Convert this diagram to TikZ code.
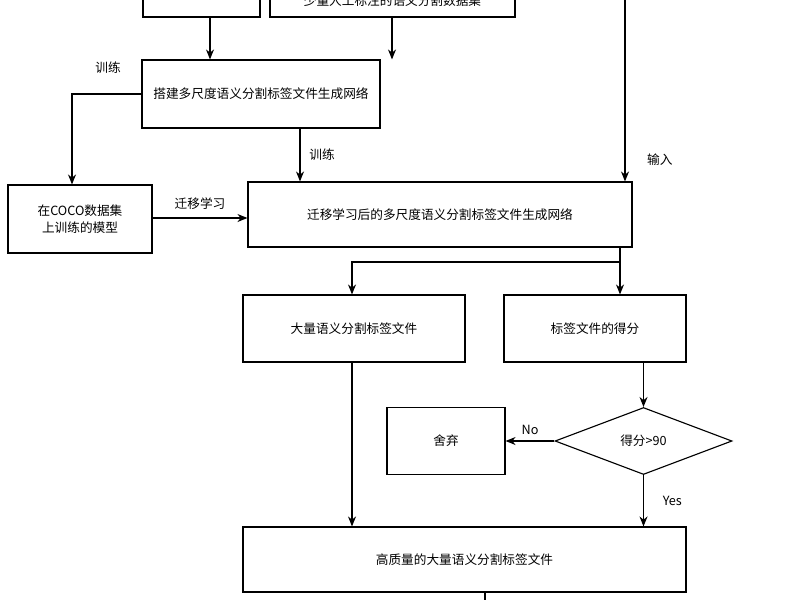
\documentclass[tikz,border=0pt]{standalone}
\usepackage{fontspec}
\setmainfont{Liberation Serif}
\newfontfamily\cjk{Noto Sans CJK SC}
\usetikzlibrary{calc,positioning,shapes.geometric,arrows.meta}
\begin{document}
\begin{tikzpicture}[x=0.025cm,y=-0.025cm,>={Stealth[length=2.5mm,width=2mm]},font=\cjk\fontsize{9}{12}\selectfont]

\tikzset{box/.style={draw,thick,rectangle,inner sep=0pt,align=center},
lbl/.style={font=\cjk\fontsize{9}{11}\selectfont},
flow/.style={thick,->}}

\useasboundingbox (0,0) rectangle (800,600);
\begin{scope}
\clip (0,0) rectangle (800,600);

% boxes
\node[box,minimum width=117*0.025cm,minimum height=60*0.025cm] (a) at (201.5,-13) {};
\node[box,minimum width=245*0.025cm,minimum height=60*0.025cm] (b) at (392.5,-13) {};
\node (btext) at (392.5,1) {少量人工标注的语义分割数据集};
\node[box,minimum width=238*0.025cm,minimum height=68*0.025cm] (c) at (261,94) {搭建多尺度语义分割标签文件生成网络};
\node[box,minimum width=144*0.025cm,minimum height=68*0.025cm] (e) at (80,219) {在COCO数据集\\上训练的模型};
\node[box,minimum width=384*0.025cm,minimum height=65*0.025cm] (d) at (440,214.5) {迁移学习后的多尺度语义分割标签文件生成网络};
\node[box,minimum width=222*0.025cm,minimum height=67*0.025cm] (f) at (354,328.5) {大量语义分割标签文件};
\node[box,minimum width=182*0.025cm,minimum height=67*0.025cm] (g) at (595,328.5) {标签文件的得分};
\node[box,diamond,aspect=2.64,minimum width=177*0.025cm,minimum height=67*0.025cm] (k) at (643.5,441) {得分>90};
\node[box,minimum width=118*0.025cm,minimum height=67*0.025cm] (h) at (446,441) {舍弃};
\node[box,minimum width=443*0.025cm,minimum height=65*0.025cm] (i) at (464.5,559.5) {高质量的大量语义分割标签文件};
\coordinate (top) at (625,0);
\coordinate (bot) at (485,600);

% edges
\draw[flow] (a.south -| 210,0) -- (c.north -| 210,0);
\draw[flow] (b.south -| 392,0) -- (c.north -| 392,0);
\draw[flow] (c.west) -- (72,94) -- (e.north -| 72,0);
\node[lbl] (l1) at (108,68) {训练};
\draw[flow] (c.south -| 300,0) -- (d.north -| 300,0) node[lbl,midway,right=3pt] (l2) {训练};
\draw[flow] (top) -- (d.north -| top) node[lbl,pos=0.88,right=12pt] (l3) {输入};
\draw[flow] (e.east |- 0,218) -- (d.west |- 0,218) node[lbl,midway,above=2pt] (l4) {迁移学习};
\draw[flow] (d.south -| 620,0) -- (g.north -| 620,0);
\draw[flow] (620,262) -| (f.north -| 352,0);
\draw[flow] (g.south -| k.north) -- (k.north);
\draw[flow] (k.west) -- (h.east) node[midway,above=1pt] (l5) {No};
\draw[flow] (k.south) -- (i.north -| k.south) node[midway,right=10pt] (l6) {Yes};
\draw[flow] (f.south -| 352,0) -- (i.north -| 352,0);
\draw[thick] (i.south -| bot) -- (bot);
\end{scope}
\end{tikzpicture}
\end{document}
